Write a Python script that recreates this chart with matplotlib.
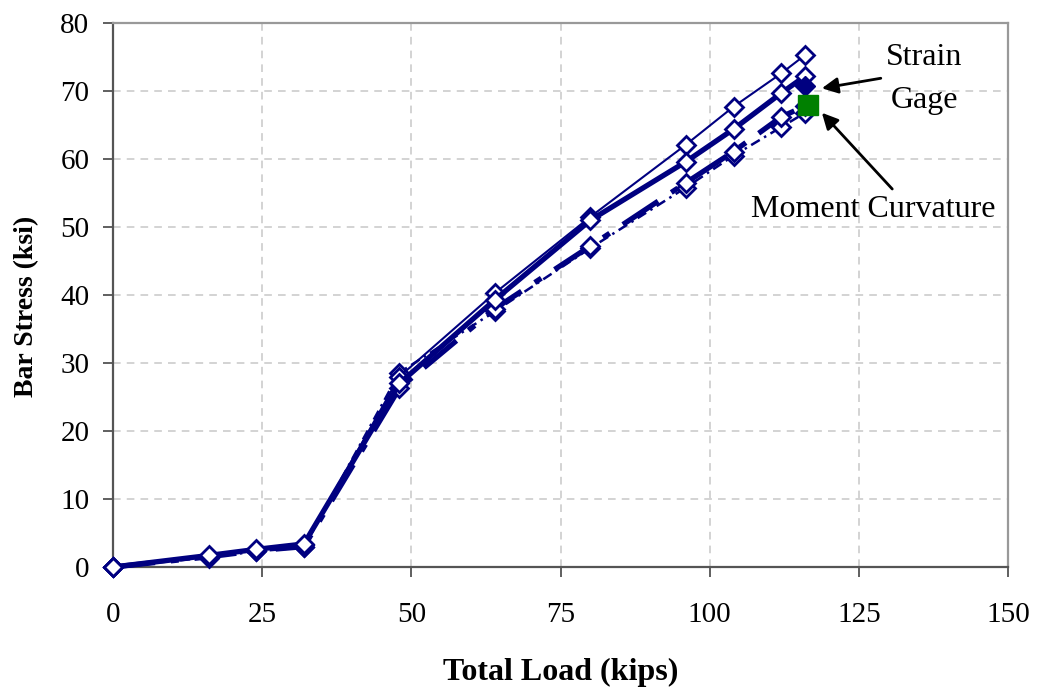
import matplotlib
matplotlib.use("Agg")
import matplotlib.pyplot as plt

plt.rcParams['font.family'] = ['Liberation Serif', 'DejaVu Serif']

# Applied load steps (kips)
load = [0, 16, 24, 32, 48, 64, 80, 96, 104, 112, 116]

# Bar stress (ksi) from the individual gages
gage_a = [0, 1.6, 2.5, 3.2, 28.0, 40.3, 51.5, 62.1, 67.7, 72.6, 75.3]
gage_b = [0, 1.7, 2.6, 3.4, 27.0, 39.3, 51.0, 59.6, 64.4, 69.7, 72.2]
gage_c = [0, 1.5, 2.4, 3.0, 26.3, 38.0, 47.2, 56.5, 61.1, 66.2, 67.8]
gage_d = [0, 1.4, 2.3, 2.9, 28.6, 37.6, 46.9, 55.8, 60.5, 64.7, 66.8]

# Single-point comparisons at the final load
strain_gage_load, strain_gage_stress = 116, 70.7
moment_curv_load, moment_curv_stress = 116.5, 68.0

navy = '#000080'

fig = plt.figure(figsize=(10.39, 6.91), dpi=100)
ax = fig.add_axes([0.1088, 0.1794, 0.8614, 0.7873])

mk = dict(marker='D', markersize=9, markerfacecolor='white',
          markeredgecolor=navy, markeredgewidth=2, clip_on=False)
ax.plot(load, gage_d, color=navy, lw=1.8, linestyle=(0, (4, 2, 1, 2)), **mk, zorder=3)
ax.plot(load, gage_c, color=navy, lw=3.8, linestyle=(0, (8, 3, 1.5, 3)), **mk, zorder=3)
ax.plot(load, gage_a, color=navy, lw=1.5, linestyle='-', **mk, zorder=4)
ax.plot(load, gage_b, color=navy, lw=3.8, linestyle='-', **mk, zorder=4)

ax.plot([strain_gage_load], [strain_gage_stress], marker='D', markersize=10,
        color=navy, linestyle='none', zorder=5)
ax.plot([moment_curv_load], [moment_curv_stress], marker='s', markersize=14,
        color='#008000', linestyle='none', zorder=6)

ax.set_xlim(0, 150)
ax.set_ylim(0, 80)
ax.set_xticks(range(0, 151, 25))
ax.set_yticks(range(0, 81, 10))
ax.tick_params(labelsize=21, direction='out', length=7, width=1.2, colors='#444444',
               labelcolor='black')
ax.tick_params(axis='x', pad=18)
ax.tick_params(axis='y', pad=10)
ax.grid(True, color='#c8c8c8', linestyle=(0, (5, 4)), linewidth=1.1)
ax.set_axisbelow(True)
for side in ('left', 'bottom'):
    ax.spines[side].set_color('#555555')
    ax.spines[side].set_linewidth(1.6)
for side in ('top', 'right'):
    ax.spines[side].set_color('#999999')
    ax.spines[side].set_linewidth(1.6)

ax.set_xlabel('Total Load (kips)', fontsize=23, fontweight='bold', labelpad=22)
ax.set_ylabel('Bar Stress (ksi)', fontsize=20, fontweight='bold')
ax.yaxis.set_label_coords(-0.083, 0.48)

arrow = dict(arrowstyle='-|>', color='black', lw=2, mutation_scale=24)
ax.annotate('Strain\nGage', xy=(118.8, 70.4), xytext=(136.0, 71.8),
            fontsize=23, ha='center', va='center', linespacing=1.65,
            arrowprops=dict(**arrow, shrinkA=2, shrinkB=0,
                            relpos=(0.0, 0.52)))
ax.annotate('Moment Curvature', xy=(118.8, 66.8), xytext=(127.4, 52.6),
            fontsize=23, ha='center', va='center',
            arrowprops=dict(**arrow, shrinkA=3, shrinkB=0,
                            relpos=(0.6, 1.0)))

fig.savefig('out.png', dpi=100)
